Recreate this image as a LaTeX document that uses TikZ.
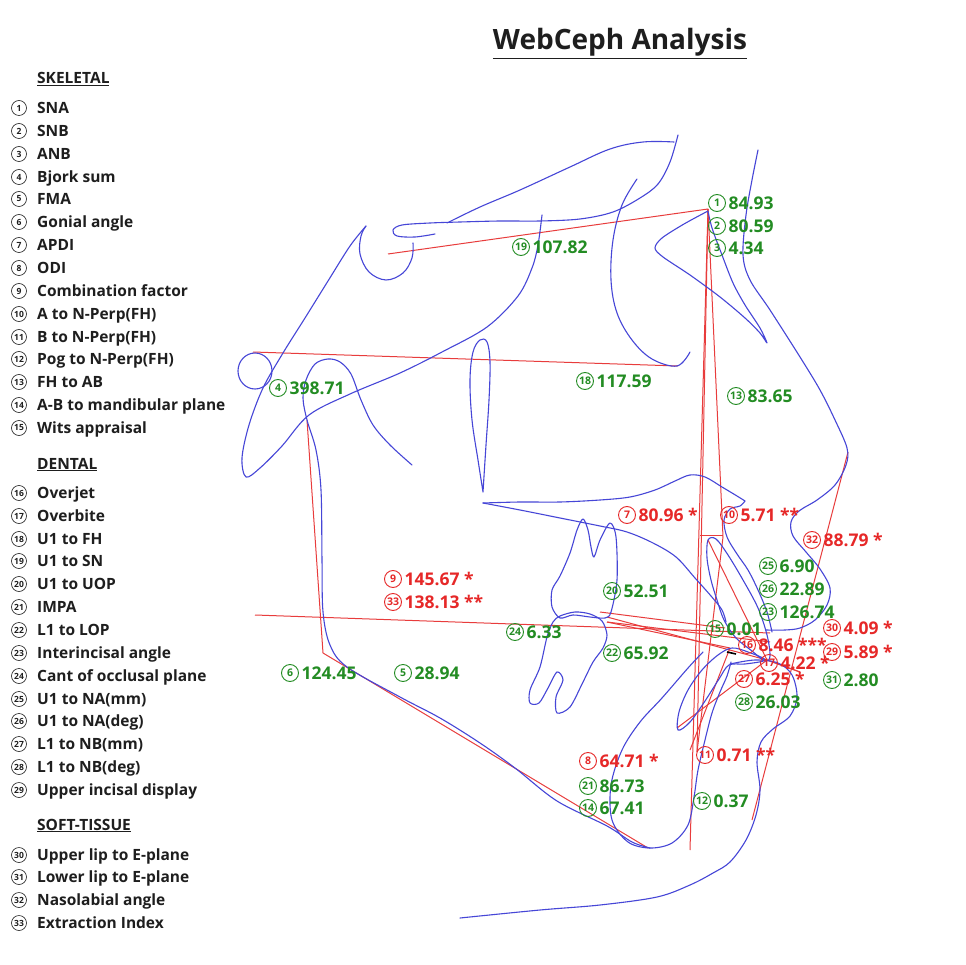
\documentclass[tikz,border=0pt]{standalone}
\usepackage{fontspec}
\setmainfont{Open Sans}
\definecolor{gr}{RGB}{35,140,35}
\definecolor{rd}{RGB}{230,40,40}
\definecolor{bl}{RGB}{70,70,215}
\definecolor{rl}{RGB}{232,60,60}
\definecolor{tx}{RGB}{30,30,30}
\begin{document}
\begin{tikzpicture}[x=1pt,y=-1pt,
 blue line/.style={draw=bl, line width=1.1pt, line join=round, line cap=round},
 red line/.style={draw=rl, line width=1pt},
 lnum/.style={circle, draw=tx, line width=0.6pt, inner sep=0pt, minimum size=15pt, text=tx, font=\fontsize{8.5}{8.5}\selectfont\bfseries},
 ltext/.style={anchor=base west, inner sep=0pt, text=tx, font=\fontsize{15.5}{16}\selectfont\bfseries},
 vnum/.style={circle, line width=0.9pt, inner sep=0pt, minimum size=17pt, font=\fontsize{10.5}{10.5}\selectfont\bfseries},
 vtext/.style={anchor=base west, inner sep=0pt, font=\fontsize{17.5}{18}\selectfont\bfseries},
]
\useasboundingbox (0,0) rectangle (966,965);
\fill[white] (0,0) rectangle (966,965);

% ---------------- title ----------------
\node[anchor=base] (title) at (620,50) {\fontsize{28}{30}\selectfont\bfseries\color{tx}\underline{WebCeph Analysis}};

% ---------------- legend ----------------
\node[ltext] (hsk) at (37,84) {\underline{SKELETAL}};
\node[ltext] (hde) at (37,469) {\underline{DENTAL}};
\node[ltext] (hso) at (37,830) {\underline{SOFT-TISSUE}};
\foreach \n/\yy/\t in {1/108/SNA, 2/131/SNB, 3/154/ANB, 4/177/Bjork sum, 5/199/FMA,
  6/222/Gonial angle, 7/245/APDI, 8/268/ODI, 9/291/Combination factor,
  10/314/A to N-Perp(FH), 11/337/B to N-Perp(FH), 12/359/Pog to N-Perp(FH),
  13/382/FH to AB, 14/405/A-B to mandibular plane, 15/428/Wits appraisal,
  16/493/Overjet, 17/516/Overbite, 18/539/U1 to FH, 19/561/U1 to SN,
  20/584/U1 to UOP, 21/607/IMPA, 22/630/L1 to LOP, 23/653/Interincisal angle,
  24/676/Cant of occlusal plane, 25/699/U1 to NA(mm), 26/721/U1 to NA(deg),
  27/744/L1 to NB(mm), 28/767/L1 to NB(deg), 29/790/Upper incisal display,
  30/855/Upper lip to E-plane, 31/877/Lower lip to E-plane,
  32/900/Nasolabial angle, 33/923/Extraction Index}{
  \node[lnum] (lc\n) at (19,\yy) {\n};
  \node[ltext] (lt\n) at (37,\yy+5.5) {\t};
}

% ---------------- red construction lines ----------------
\coordinate (S) at (388,254);
\coordinate (N) at (708,209);
\coordinate (Po) at (253,352);
\coordinate (Or) at (678,366);
\coordinate (NP) at (690,850);
\coordinate (A) at (723,537);
\coordinate (Ah) at (700,535);
\coordinate (Ahr) at (723,535);
\coordinate (B) at (697,752);
\coordinate (Ar) at (307,420);
\coordinate (Go) at (323,653);
\coordinate (Me) at (648,848);
\coordinate (OP1) at (255,615);
\coordinate (OP2) at (770,633);
\coordinate (M1) at (607,617);
\coordinate (M2) at (607,622);
\coordinate (M3) at (600,612);
\coordinate (U1a) at (708,540);
\coordinate (U1t) at (767,660);
\coordinate (L1a) at (677,728);
\coordinate (L1t) at (730,648);
\coordinate (En) at (848,452);
\coordinate (Ec) at (752,820);
\coordinate (Ob) at (800,672);
\draw[red line] (S) -- (N);
\draw[red line] (Po) -- (Or);
\draw[red line] (N) -- (NP);
\draw[red line] (N) -- (A);
\draw[red line] (N) -- (B);
\draw[red line] (Ah) -- (Ahr);
\draw[red line] (A) -- (B);
\draw[red line] (Ar) -- (Go) -- (Me);
\draw[red line] (OP1) -- (OP2);
\draw[red line] (M1) -- (U1t);
\draw[red line] (M2) -- (L1t);
\draw[red line] (M3) -- (725,628);
\draw[red line] (M2) -- (770,642);
\draw[red line] (U1a) -- (U1t);
\draw[red line] (U1t) -- (L1a);
\draw[red line] (L1t) -- (690,750);
\draw[red line] (En) -- (Ec);
\draw[red line, line width=1.3pt] (U1t) -- (Ob);
\draw[black, line width=1.6pt] (727,652) -- (736,654);

% ---------------- blue tracing ----------------
% sella
\draw[blue line] plot[smooth,tension=0.6] coordinates {(413,243) (412,258) (403,273) (386,280) (369,272) (360,254) (361,236) (366,226)};
% clivus, basicranium and zygomatic loop
\draw[blue line] plot[smooth,tension=0.55] coordinates {(366,226) (350,246) (328,281) (305,318) (283,353) (263,388) (249,425) (242,458) (246,477) (260,468) (282,446) (309,415) (350,394) (400,373) (442,352) (487,327) (518,296) (532,268) (538,245) (542,215)};
% anterior clinoid and planum
\draw[blue line] plot[smooth,tension=0.55] coordinates {(435,234) (415,237) (397,236) (393,230) (402,225) (430,223) (460,222) (500,221) (540,221) (580,219) (613,212) (640,198) (658,184) (670,162) (678,135)};
% anterior cranial contour
\draw[blue line] plot[smooth,tension=0.6] coordinates {(447,223) (480,207) (520,190) (570,167) (610,149) (643,142) (674,142)};
% orbit / ptm
\draw[blue line] plot[smooth,tension=0.6] coordinates {(637,179) (622,205) (613,240) (611,280) (617,313) (632,340) (652,359) (677,366) (690,352)};
% porion
\draw[blue line] (255,371) ellipse[x radius=17pt, y radius=18pt];
% condyle, ramus and mandibular border
\draw[blue line] plot[smooth,tension=0.55] coordinates {(412,465) (390,445) (373,425) (361,400) (351,374) (340,362) (328,359) (315,364) (306,380) (303,398) (307,420) (316,450) (321,490) (322,560) (323,612) (330,645) (347,667) (400,697) (440,718) (480,743) (515,768) (557,801) (607,826) (632,842) (650,848)};
% pterygoid teardrop
\draw[blue line] plot[smooth,tension=0.6] coordinates {(483,492) (478,460) (472,420) (470,380) (473,352) (480,340) (487,342) (490,362) (489,400) (486,445) (483,492)};
% palate (nasal floor) to ANS
\draw[blue line] plot[smooth,tension=0.55] coordinates {(483,503) (520,502) (560,502) (600,500) (630,497) (655,490) (675,481) (690,475) (705,477) (722,487) (737,496) (745,501)};
% anterior maxilla
\draw[blue line] plot[smooth,tension=0.55] coordinates {(745,501) (740,506) (730,509) (724,520) (727,537) (737,554) (748,570) (758,590) (767,612) (772,632)};
% oral palate
\draw[blue line] plot[smooth,tension=0.55] coordinates {(483,503) (520,510) (560,518) (600,526) (627,532) (653,543) (676,557) (695,578) (711,596) (722,610) (726,622)};
% upper incisor
\draw[blue line] plot[smooth cycle,tension=0.55] coordinates {(708,540) (716,539) (728,555) (743,580) (758,608) (767,635) (770,656) (765,661) (752,651) (736,638) (724,620) (717,600) (711,580) (707,558)};
% upper molar
\draw[blue line] plot[smooth cycle,tension=0.5] coordinates {(583,519) (588,530) (591,547) (594,557) (600,540) (610,523) (616,537) (617,580) (611,612) (605,618) (590,617) (573,615) (560,618) (552,607) (552,590) (560,576) (570,553) (577,530)};
% lower molar
\draw[blue line] plot[smooth cycle,tension=0.5] coordinates {(560,616) (575,612) (590,614) (602,621) (607,635) (603,648) (593,662) (583,682) (570,707) (557,713) (556,697) (563,680) (557,672) (548,688) (539,703) (530,703) (530,690) (540,667) (547,637) (553,622)};
% lower incisor
\draw[blue line] plot[smooth cycle,tension=0.55] coordinates {(678,730) (679,712) (688,690) (702,670) (718,655) (732,648) (748,652) (765,660) (745,664) (729,665) (719,679) (705,701) (690,722)};
% symphysis
\draw[blue line] plot[smooth,tension=0.55] coordinates {(703,652) (688,668) (662,698) (640,722) (622,750) (611,785) (612,820) (628,842) (650,848) (672,843) (688,825) (694,797) (698,770) (705,740) (712,713) (720,692) (727,676) (731,662)};
% nasal bone region
\draw[blue line] plot[smooth,tension=0.5] coordinates {(708,211) (684,224) (662,238) (655,248) (663,257) (690,275) (720,297) (745,318) (760,333) (767,343) (760,328) (745,305) (733,283) (722,255) (712,228) (708,211)};
% soft tissue: forehead, nose, upper lip
\draw[blue line] plot[smooth,tension=0.55] coordinates {(758,150) (752,180) (746,215) (743,255) (750,280) (770,310) (800,357) (820,390) (835,420) (847,448) (846,465) (835,485) (817,500) (799,511) (791,522) (793,536) (806,552) (820,569) (830,588) (827,605) (815,620) (800,628) (785,630) (766,630)};
% soft tissue: lower lip, chin, neck
\draw[blue line] plot[smooth,tension=0.55] coordinates {(730,664) (755,660) (778,663) (792,675) (797,697) (790,716) (773,729) (761,742) (757,762) (760,790) (756,815) (746,840) (730,862) (713,873) (690,885) (657,897) (600,905) (540,910) (460,918)};

% ---------------- measurement labels ----------------
\foreach \n/\xx/\yy/\v/\c in {1/717/203/84.93/gr, 2/717/226/80.59/gr, 3/717/248/4.34/gr,
  19/521/247/107.82/gr, 18/585/381/117.59/gr, 4/278/388/398.71/gr, 13/736/396/83.65/gr,
  7/627/515/80.96 */rd, 10/729/515/5.71 **/rd, 32/812/540/88.79 */rd,
  25/768/566/6.90/gr, 26/768/589/22.89/gr, 20/612/591/52.51/gr,
  9/393/579/145.67 */rd, 33/393/602/138.13 **/rd, 23/768/612/126.74/gr,
  24/515/632/6.33/gr, 15/715/629/0.01/gr, 30/832/628/4.09 */rd,
  16/747/645/8.46 ***/rd, 29/832/652/5.89 */rd, 22/612/653/65.92/gr,
  6/290/673/124.45/gr, 5/403/673/28.94/gr, 17/769/663/4.22 */rd,
  27/744/679/6.25 */rd, 31/832/680/2.80/gr, 28/744/702/26.03/gr,
  8/588/761/64.71 */rd, 11/705/755/0.71 **/rd, 21/588/786/86.73/gr,
  14/588/808/67.41/gr, 12/702/801/0.37/gr}{
  \node[vnum, draw=\c, text=\c] (c\n) at (\xx,\yy) {\n};
  \node[vtext, text=\c] (v\n) at ([xshift=2.5pt,yshift=-6.2pt]c\n.east) {\v};
}
\end{tikzpicture}
\end{document}
